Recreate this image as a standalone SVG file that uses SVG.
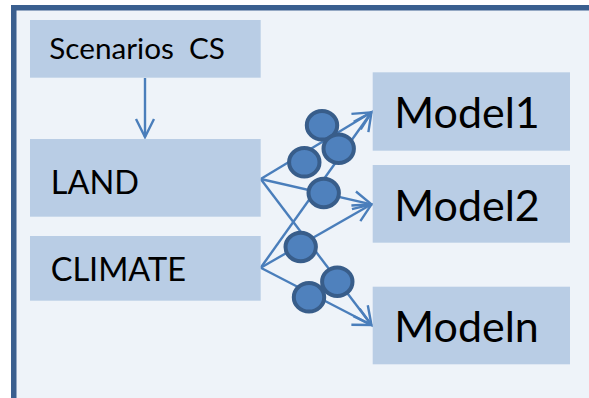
<svg xmlns="http://www.w3.org/2000/svg" width="589" height="398" viewBox="0 0 589 398">
<defs>
<style>
.box{fill:#b9cde5}
.t{font-family:Lato,"Open Sans",sans-serif;fill:#000}
.c{stroke:#4a7ebb;stroke-width:2.4;fill:none;marker-end:url(#ah)}
.dot{fill:#4f81bd;stroke:#385d8a;stroke-width:4}
</style>
<marker id="ah" markerUnits="userSpaceOnUse" markerWidth="30" markerHeight="30" viewBox="-22 -15 30 30" refX="0" refY="0" orient="auto">
<path d="M-18,-9 L0,0 L-18,9" fill="none" stroke="#4a7ebb" stroke-width="2.4" stroke-linejoin="miter"/>
</marker>
</defs>
<rect width="589" height="398" fill="#ffffff"/>
<rect id="frame" x="13.75" y="7.75" width="620" height="420" fill="#eef3f9" stroke="#3a5f8f" stroke-width="5.5"/>
<g id="connectors">
<path class="c" d="M145,78 L145,137"/>
<path class="c" d="M260.7,179 L371.5,112.3"/>
<path class="c" d="M260.7,267.7 L371.5,112.3"/>
<path class="c" d="M260.7,179 L371.5,204.3"/>
<path class="c" d="M260.7,267.7 L371.5,204.3"/>
<path class="c" d="M260.7,179 L371.5,325"/>
<path class="c" d="M260.7,267.7 L371.5,325"/>
</g>
<g id="dots">
<ellipse class="dot" cx="322" cy="125.3" rx="15.2" ry="14.2"/>
<ellipse class="dot" cx="338.7" cy="148.7" rx="15.2" ry="14.2"/>
<ellipse class="dot" cx="304.3" cy="162.3" rx="15.2" ry="14.2"/>
<ellipse class="dot" cx="323.7" cy="193" rx="15.2" ry="14.2"/>
<ellipse class="dot" cx="300.7" cy="247" rx="15.2" ry="14.2"/>
<ellipse class="dot" cx="309" cy="297.3" rx="15.2" ry="14.2"/>
<ellipse class="dot" cx="337.3" cy="281.7" rx="15.2" ry="14.2"/>
</g>
<g id="scenarios">
<rect class="box" x="30" y="20" width="230.7" height="57.7"/>
<text class="t" x="49.3" y="59.3" font-size="29.7" xml:space="preserve">Scenarios  CS</text>
</g>
<g id="land">
<rect class="box" x="30" y="139" width="230.7" height="77.7"/>
<text class="t" x="50.7" y="194" font-size="32.5">LAND</text>
</g>
<g id="climate">
<rect class="box" x="30" y="236" width="230.7" height="64.7"/>
<text class="t" x="50.7" y="280.7" font-size="32.5">CLIMATE</text>
</g>
<g id="model1">
<rect class="box" x="372.7" y="72.3" width="197.3" height="78.4"/>
<text class="t" x="394.3" y="128.3" font-size="43">Model1</text>
</g>
<g id="model2">
<rect class="box" x="372.7" y="165" width="197.3" height="77.7"/>
<text class="t" x="394.3" y="221" font-size="43">Model2</text>
</g>
<g id="modeln">
<rect class="box" x="372.7" y="286.7" width="197.3" height="77.6"/>
<text class="t" x="394.3" y="342.3" font-size="43">Modeln</text>
</g>
</svg>
